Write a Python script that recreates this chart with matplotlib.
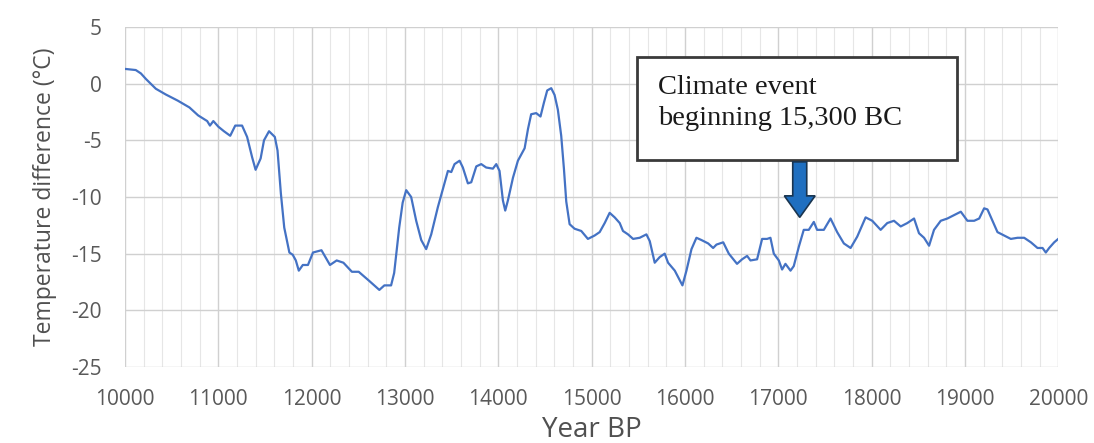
import numpy as np
import matplotlib
matplotlib.use('Agg')
import matplotlib.pyplot as plt
from matplotlib.patches import Rectangle, FancyArrow
from matplotlib.ticker import MultipleLocator

plt.rcParams['axes.unicode_minus'] = False

# temperature record (year BP, deg C)
years = [10000, 10060, 10115, 10170, 10225, 10330, 10435, 10565, 10690, 10783,
         10880, 10910, 10946, 11000, 11060, 11127, 11181, 11254, 11308, 11362,
         11399, 11453, 11489, 11543, 11605, 11634, 11670, 11706, 11761, 11797,
         11830, 11862, 11905, 11960, 12014, 12105, 12196, 12268, 12340, 12431,
         12504, 12616, 12725, 12779, 12851, 12884, 12938, 12975,
         13013, 13066, 13120, 13174, 13227, 13281, 13352, 13406, 13460, 13496,
         13531, 13585, 13620, 13674, 13710, 13764, 13817, 13870, 13942, 13978,
         14013, 14049, 14074, 14103, 14157, 14210, 14282, 14318, 14352, 14406,
         14452, 14488, 14524, 14567, 14603, 14638, 14674, 14703, 14728, 14764,
         14817, 14889, 14960, 15032, 15086, 15140, 15193, 15247, 15301, 15336,
         15390, 15444, 15515, 15587, 15623, 15676, 15730, 15783, 15819, 15891,
         15973, 16016, 16070, 16123, 16177, 16249, 16302, 16338, 16410, 16470,
         16558, 16612, 16666, 16702, 16773, 16827, 16880, 16916, 16952, 17006,
         17041, 17077, 17131, 17166, 17220, 17273, 17327, 17381, 17416, 17488,
         17560, 17631, 17703, 17775, 17846, 17936, 18007, 18097, 18168, 18240,
         18312, 18383, 18455, 18508, 18562, 18616, 18669, 18741, 18812, 18884,
         18956, 19027, 19099, 19153, 19206, 19242, 19296, 19349, 19421, 19492,
         19564, 19635, 19707, 19778, 19832, 19867, 19903, 19957, 20000]
temps = [1.3, 1.25, 1.2, 0.9, 0.4, -0.45, -0.95, -1.5, -2.1, -2.8,
         -3.3, -3.7, -3.3, -3.8, -4.2, -4.6, -3.7, -3.7, -4.7, -6.5,
         -7.6, -6.6, -5.0, -4.2, -4.7, -5.9, -9.7, -12.7, -14.9, -15.1,
         -15.6, -16.5, -16.0, -16.0, -14.9, -14.7, -16.0, -15.6, -15.8, -16.6,
         -16.6, -17.4, -18.2, -17.8, -17.8, -16.7, -12.7, -10.5,
         -9.4, -10.0, -12.1, -13.8, -14.6, -13.3, -10.9, -9.3, -7.7, -7.8,
         -7.1, -6.8, -7.4, -8.8, -8.7, -7.3, -7.1, -7.4, -7.5, -7.1,
         -7.7, -10.3, -11.2, -10.3, -8.3, -6.8, -5.7, -4.0, -2.7, -2.6,
         -2.9, -1.7, -0.6, -0.4, -1.0, -2.3, -4.6, -7.5, -10.4, -12.4,
         -12.8, -13.0, -13.7, -13.4, -13.1, -12.3, -11.4, -11.8, -12.3, -13.0,
         -13.3, -13.7, -13.6, -13.3, -13.9, -15.8, -15.3, -15.0, -15.8, -16.5,
         -17.8, -16.5, -14.6, -13.6, -13.8, -14.1, -14.5, -14.2, -14.0, -15.0,
         -15.9, -15.5, -15.2, -15.6, -15.5, -13.7, -13.7, -13.6, -15.0, -15.6,
         -16.4, -15.9, -16.5, -16.1, -14.4, -12.9, -12.9, -12.2, -12.9, -12.9,
         -11.9, -13.1, -14.1, -14.5, -13.5, -11.8, -12.1, -12.9, -12.3, -12.1,
         -12.6, -12.3, -11.9, -13.2, -13.6, -14.3, -12.9, -12.1, -11.9, -11.6,
         -11.3, -12.1, -12.1, -11.9, -11.0, -11.1, -12.1, -13.1, -13.4, -13.7,
         -13.6, -13.6, -14.0, -14.5, -14.5, -14.9, -14.5, -14.0, -13.7]

xticks = [10000, 11000, 12000, 13000, 14000, 15000, 16000, 17000, 18000, 19000, 20000]
yticks = [5, 0, -5, -10, -15, -20, -25]

fig = plt.figure(figsize=(10.94, 4.43), dpi=100)
ax = fig.add_axes([0.1143, 0.1716, 0.853, 0.7675])

ax.plot(years, temps, color='#4472C4', lw=1.6)

ax.set_xlim(10000, 20000)
ax.set_ylim(-25, 5)
ax.set_xticks(xticks)
ax.set_yticks(yticks)
ax.xaxis.set_minor_locator(MultipleLocator(200))
ax.grid(which='major', color='#d0d0d0', lw=1.0)
ax.grid(which='minor', axis='x', color='#e6e6e6', lw=0.8)
ax.set_axisbelow(True)
for s in ax.spines.values():
    s.set_visible(False)
ax.tick_params(which='both', length=0, labelsize=15, labelcolor='#595959')
ax.tick_params(axis='x', pad=16)
ax.tick_params(axis='y', pad=17)
for lab in ax.get_xticklabels() + ax.get_yticklabels():
    lab.set_family('Open Sans')

ax.set_xlabel('Year BP', fontsize=20, color='#505050', family='Open Sans', labelpad=4)
ax.set_ylabel('Temperature difference (°C)', fontsize=16.5, color='#505050',
              family='Open Sans', labelpad=10)

# annotation box
ax.add_patch(Rectangle((0.549, 0.609), 0.342, 0.303, transform=ax.transAxes,
                       facecolor='white', edgecolor='#3a3a3a', lw=2, zorder=5))
ax.text(0.571, 0.86, 'Climate event\nbeginning 15,300 BC', transform=ax.transAxes,
        ha='left', va='top', fontsize=20.5, family='Liberation Serif',
        color='#1a1a1a', linespacing=1.36, zorder=6)

# arrow pointing at the event
ax.add_patch(FancyArrow(17230, -6.9, 0, -4.9, width=150, head_width=330,
                        head_length=1.9, length_includes_head=True,
                        facecolor='#1F6FC0', edgecolor='#1a3550', lw=1.2, zorder=6))

fig.savefig('out.png', dpi=100)
